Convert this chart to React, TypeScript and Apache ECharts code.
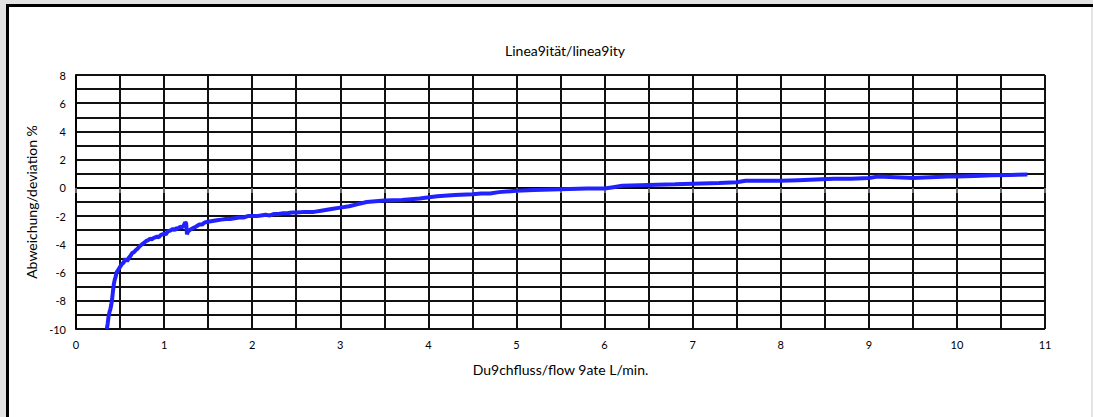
import React, { useEffect, useRef } from "react";
import * as echarts from "echarts";

const titleText = "Linea9ität/linea9ity";
const xAxisName = "Du9chfluss/flow 9ate L/min.";
const yAxisName = "Abweichung/deviation %";

const flowRate = [
  0.35, 0.36, 0.37, 0.38, 0.39, 0.4, 0.41, 0.42, 0.43, 0.44, 0.45, 0.46, 0.47, 0.48, 0.5,
  0.52, 0.54, 0.56, 0.58, 0.6, 0.62, 0.64, 0.66, 0.68, 0.7, 0.72, 0.74, 0.76, 0.78, 0.8,
  0.82, 0.84, 0.86, 0.88, 0.9, 0.92, 0.94, 0.96, 0.98, 1.0, 1.02, 1.04, 1.06, 1.08, 1.1,
  1.12, 1.14, 1.16, 1.18, 1.2, 1.22, 1.24, 1.25, 1.26, 1.27, 1.3, 1.33, 1.36, 1.4, 1.43,
  1.46, 1.5, 1.55, 1.6, 1.65, 1.7, 1.75, 1.8, 1.85, 1.9, 1.95, 2.0, 2.05, 2.1, 2.15,
  2.2, 2.25, 2.3, 2.35, 2.4, 2.45, 2.5, 2.6, 2.7, 2.8, 2.9, 3.0, 3.1, 3.2, 3.3,
  3.5, 3.7, 3.9, 4.1, 4.3, 4.5, 4.6, 4.7, 4.8, 5.0, 5.2, 5.5, 5.8, 6.0, 6.1,
  6.2, 6.5, 6.8, 7.0, 7.3, 7.5, 7.6, 7.8, 8.0, 8.2, 8.4, 8.6, 8.8, 9.0, 9.1,
  9.3, 9.5, 9.7, 9.9, 10.0, 10.2, 10.4, 10.6, 10.8,
];

const deviation = [
  -10.0, -9.6, -9.1, -8.8, -8.6, -8.3, -7.9, -7.3, -6.8, -6.5, -6.3, -6.0, -5.9, -5.8, -5.6,
  -5.4, -5.3, -5.0, -5.2, -4.95, -4.8, -4.6, -4.55, -4.4, -4.3, -4.15, -4.05, -3.95, -3.85, -3.75,
  -3.7, -3.6, -3.65, -3.55, -3.5, -3.45, -3.5, -3.35, -3.3, -3.25, -3.3, -3.1, -3.05, -3.0, -2.9,
  -3.0, -2.85, -2.9, -2.75, -2.8, -2.7, -2.45, -2.5, -3.3, -3.1, -2.95, -2.85, -2.75, -2.6, -2.6,
  -2.45, -2.4, -2.35, -2.3, -2.25, -2.2, -2.2, -2.15, -2.1, -2.1, -2.0, -2.0, -2.0, -1.95, -1.9,
  -1.95, -1.85, -1.85, -1.8, -1.8, -1.75, -1.75, -1.7, -1.7, -1.6, -1.5, -1.4, -1.3, -1.15, -1.0,
  -0.9, -0.85, -0.75, -0.6, -0.5, -0.45, -0.4, -0.4, -0.3, -0.2, -0.15, -0.1, -0.05, -0.05, 0.05,
  0.15, 0.2, 0.25, 0.3, 0.35, 0.4, 0.5, 0.5, 0.5, 0.55, 0.6, 0.65, 0.65, 0.7, 0.8,
  0.75, 0.7, 0.75, 0.8, 0.8, 0.85, 0.9, 0.92, 0.95,
];

const fontFamily = "Lato, 'DejaVu Sans', sans-serif";

export default function App() {
  const ref = useRef<HTMLDivElement>(null);

  useEffect(() => {
    if (!ref.current) return;
    const chart = echarts.init(ref.current, null, { renderer: "svg" });
    const data = flowRate.map((x, i) => [x, deviation[i]]);
    chart.setOption({
      animation: false,
      backgroundColor: "transparent",
      title: {
        text: titleText,
        left: 560,
        textAlign: "center",
        top: 38,
        textStyle: { fontFamily, fontSize: 14, fontWeight: "normal", color: "#000" },
      },
      grid: { left: 76, right: 48, top: 75, bottom: 88, containLabel: false },
      xAxis: {
        type: "value",
        min: 0,
        max: 11,
        interval: 0.5,
        name: xAxisName,
        nameLocation: "middle",
        nameGap: 33,
        nameTextStyle: { fontFamily, fontSize: 14, color: "#000" },
        axisLine: { show: true, lineStyle: { color: "#000", width: 2 } },
        axisTick: { show: true, length: 5, lineStyle: { color: "#888", width: 1.5 } },
        axisLabel: {
          fontFamily,
          fontSize: 11,
          color: "#000",
          margin: 10,
          formatter: (v: number) => (Number.isInteger(v) ? String(v) : ""),
        },
        splitLine: { show: true, lineStyle: { color: "#111", width: 2 } },
      },
      yAxis: {
        type: "value",
        min: -10,
        max: 8,
        interval: 1,
        name: yAxisName,
        nameLocation: "middle",
        nameGap: 38,
        nameRotate: 90,
        nameTextStyle: { fontFamily, fontSize: 14, color: "#000" },
        axisLine: { show: true, lineStyle: { color: "#000", width: 2 } },
        axisTick: { show: false },
        axisLabel: {
          fontFamily,
          fontSize: 11,
          color: "#000",
          margin: 10,
          formatter: (v: number) => (v % 2 === 0 ? String(v) : ""),
        },
        splitLine: { show: true, lineStyle: { color: "#111", width: 2 } },
      },
      series: [
        {
          type: "line",
          data,
          showSymbol: false,
          smooth: false,
          lineStyle: { color: "#2222ff", width: 4 },
          z: 5,
        },
      ],
    });
    return () => chart.dispose();
  }, []);

  return (
    <div style={{ position: "fixed", left: 0, top: 0, width: 1093, height: 417, background: "#e3e3e3", overflow: "hidden" }}>
      <div
        style={{
          position: "absolute",
          left: 6,
          top: 4,
          width: 1085,
          height: 500,
          background: "#fff",
          borderLeft: "3px solid #000",
          borderTop: "3px solid #000",
          boxSizing: "border-box",
        }}
      />
      <div style={{ position: "absolute", left: 1091, top: 4, width: 2, height: 3, background: "#000" }} />
      <div ref={ref} style={{ position: "absolute", left: 0, top: 0, width: 1093, height: 417 }} />
    </div>
  );
}
